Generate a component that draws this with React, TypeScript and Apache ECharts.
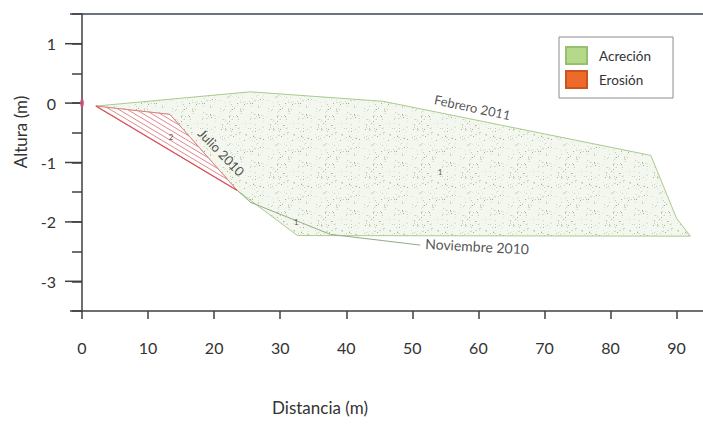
import React, { useEffect, useRef } from 'react';
import * as echarts from 'echarts';

// Axis ticks
const X_TICKS = [0, 10, 20, 30, 40, 50, 60, 70, 80, 90];
const Y_TICK_LABELS = [-3, -2, -1, 0, 1];
const X_MIN = 0;
const X_MAX = 94;
const Y_MIN = -3.5;
const Y_MAX = 1.5;

// Acreción polygon (Febrero 2011 profile vs. earlier profiles)
const ACRECION_X = [2.1, 25.5, 45.6, 86.1, 90.0, 92.1, 32.6, 23.5, 13.3];
const ACRECION_Y = [-0.05, 0.19, 0.03, -0.88, -1.94, -2.24, -2.23, -1.47, -0.19];

// Erosión polygon (hatched)
const EROSION_X = [2.1, 13.3, 23.5];
const EROSION_Y = [-0.05, -0.19, -1.47];

// Noviembre 2010 profile line
const NOV_X = [23.5, 25.5, 37.6, 51.2];
const NOV_Y = [-1.47, -1.67, -2.21, -2.39];

// Annotations
const LABEL_TEXT = ['Febrero 2011', 'Julio 2010', 'Noviembre 2010', '1', '1', '2'];
const LABEL_X = [59.1, 21.1, 59.8, 54.2, 32.4, 13.5];
const LABEL_Y = [-0.07, -0.83, -2.41, -1.16, -2.0, -0.57];
const LABEL_ANGLE = [-12, -46, -3, 0, 0, 0];
const LABEL_SIZE = [13, 13, 14, 8, 8, 8];

const FONT = 'Lato, "Open Sans", sans-serif';
const AXIS_COLOR = '#404040';

function makeStipple(): HTMLCanvasElement {
  const c = document.createElement('canvas');
  c.width = 48;
  c.height = 48;
  const ctx = c.getContext('2d')!;
  ctx.fillStyle = '#f4f7ef';
  ctx.fillRect(0, 0, 48, 48);
  let s = 12345;
  const rnd = () => {
    s = (s * 1103515245 + 12345) % 2147483648;
    return s / 2147483648;
  };
  for (let i = 0; i < 200; i++) {
    const x = Math.floor(rnd() * 48);
    const y = Math.floor(rnd() * 48);
    const r = rnd();
    ctx.fillStyle = r < 0.12 ? '#a3b199' : r < 0.5 ? '#c5d3b4' : '#dde7d0';
    ctx.fillRect(x, y, 1, 1);
  }
  return c;
}

export default function App() {
  const ref = useRef<HTMLDivElement>(null);

  useEffect(() => {
    if (!ref.current) return;
    const chart = echarts.init(ref.current, undefined, { renderer: 'svg' });
    const stipple = makeStipple();

    const acrecionData = ACRECION_X.map((x, i) => [x, ACRECION_Y[i]]);
    const erosionData = EROSION_X.map((x, i) => [x, EROSION_Y[i]]);
    const novData = NOV_X.map((x, i) => [x, NOV_Y[i]]);

    const labelData = LABEL_TEXT.map((t, i) => ({
      value: [LABEL_X[i], LABEL_Y[i]],
      label: {
        formatter: t,
        rotate: LABEL_ANGLE[i],
        fontSize: LABEL_SIZE[i],
      },
    }));

    const option: any = {
      animation: false,
      grid: { left: 82, right: 0, top: 14, bottom: 117 },
      legend: {
        data: ['Acreción', 'Erosión'],
        orient: 'vertical',
        left: 559,
        top: 37,
        padding: [9, 22, 9, 6],
        itemWidth: 21,
        itemHeight: 17,
        itemGap: 5,
        borderColor: '#8c8c8c',
        borderWidth: 1,
        backgroundColor: '#fff',
        icon: 'rect',
        selectedMode: false,
        textStyle: { fontSize: 13.5, color: '#333', fontFamily: FONT, padding: [0, 0, 0, 7] },
      },
      xAxis: [
        {
          type: 'value',
          position: 'bottom',
          min: X_MIN,
          max: X_MAX,
          interval: 10,
          splitLine: { show: false },
          axisLine: { show: true, onZero: false, lineStyle: { color: AXIS_COLOR, width: 1.5 } },
          axisTick: { show: true, length: 8, lineStyle: { color: AXIS_COLOR, width: 1.5 } },
          axisLabel: {
            margin: 28,
            fontSize: 16,
            color: '#333',
            fontFamily: FONT,
            showMaxLabel: false,
            formatter: (v: number) => (X_TICKS.includes(v) ? String(v) : ''),
          },
        },
        {
          type: 'value',
          position: 'top',
          min: X_MIN,
          max: X_MAX,
          splitLine: { show: false },
          axisLine: { show: true, onZero: false, lineStyle: { color: '#3a4656', width: 1.5 } },
          axisTick: { show: false },
          axisLabel: { show: false },
        },
      ],
      yAxis: {
        type: 'value',
        min: Y_MIN,
        max: Y_MAX,
        interval: 0.5,
        splitLine: { show: false },
        axisLine: { show: true, onZero: false, lineStyle: { color: AXIS_COLOR, width: 1.5 } },
        axisTick: { show: true, length: 10, lineStyle: { color: AXIS_COLOR, width: 1.5 } },
        axisLabel: {
          margin: 26,
          fontSize: 16,
          color: '#333',
          fontFamily: FONT,
          formatter: (v: number) => (Y_TICK_LABELS.includes(v) ? String(v) : ''),
        },
      },
      graphic: [
        {
          type: 'text',
          x: 20,
          y: 132,
          rotation: Math.PI / 2,
          style: {
            text: 'Altura (m)',
            fontSize: 17,
            fontFamily: FONT,
            fill: '#333',
            align: 'center',
            verticalAlign: 'middle',
          },
        },
        {
          type: 'text',
          x: 320,
          y: 407,
          style: {
            text: 'Distancia (m)',
            fontSize: 17,
            fontFamily: FONT,
            fill: '#333',
            align: 'center',
            verticalAlign: 'middle',
          },
        },
      ],
      series: [
        {
          name: 'Acreción',
          type: 'custom',
          itemStyle: { color: '#b5d98a', borderColor: '#98bf6e', borderWidth: 1 },
          data: acrecionData,
          silent: true,
          renderItem: (params: any, api: any) => {
            if (params.dataIndex !== 0) return null;
            const pts = acrecionData.map((d) => api.coord(d));
            return {
              type: 'polygon',
              shape: { points: pts },
              style: {
                fill: { image: stipple, repeat: 'repeat', imageWidth: 48, imageHeight: 48 },
                stroke: '#a9cc8e',
                lineWidth: 1,
              },
            };
          },
        },
        {
          name: 'Erosión',
          type: 'custom',
          itemStyle: { color: '#ee6a2a', borderColor: '#c9541f', borderWidth: 1 },
          data: erosionData,
          silent: true,
          renderItem: (params: any, api: any) => {
            if (params.dataIndex !== 0) return null;
            const [A, J, I] = erosionData.map((d) => api.coord(d));
            const children: any[] = [
              {
                type: 'polygon',
                shape: { points: [A, J, I] },
                style: { fill: '#fff', stroke: '#e07d84', lineWidth: 1 },
              },
              {
                type: 'line',
                shape: { x1: A[0], y1: A[1], x2: I[0], y2: I[1] },
                style: { stroke: '#d9545c', lineWidth: 1.2, fill: 'none' },
              },
            ];
            const n = 7;
            for (let k = 1; k < n; k++) {
              const s = k / n;
              children.push({
                type: 'line',
                shape: {
                  x1: A[0] + s * (J[0] - A[0]),
                  y1: A[1] + s * (J[1] - A[1]),
                  x2: I[0] + s * (J[0] - I[0]),
                  y2: I[1] + s * (J[1] - I[1]),
                },
                style: { stroke: '#e08a90', lineWidth: 1, fill: 'none' },
              });
            }
            return { type: 'group', children };
          },
        },
        {
          name: 'Noviembre 2010',
          type: 'custom',
          data: novData,
          silent: true,
          renderItem: (params: any, api: any) => {
            if (params.dataIndex !== 0) return null;
            const pts = novData.map((d) => api.coord(d));
            return {
              type: 'polyline',
              shape: { points: pts },
              style: { stroke: '#94ab86', lineWidth: 1, fill: 'none' },
            };
          },
        },
        {
          name: 'origin',
          type: 'scatter',
          data: [[0, 0]],
          symbol: 'circle',
          symbolSize: [4, 9],
          itemStyle: { color: '#d6507e' },
          silent: true,
          z: 5,
        },
        {
          name: 'yMajorTicks',
          type: 'custom',
          clip: false,
          silent: true,
          data: Y_TICK_LABELS.map((v) => [X_MIN, v]),
          renderItem: (params: any, api: any) => {
            const p = api.coord([X_MIN, api.value(1)]);
            return {
              type: 'line',
              shape: { x1: p[0] - 17, y1: p[1], x2: p[0], y2: p[1] },
              style: { stroke: AXIS_COLOR, lineWidth: 1.5, fill: 'none' },
            };
          },
        },
        {
          name: 'frame',
          type: 'custom',
          clip: false,
          silent: true,
          data: [[X_MIN, Y_MIN], [X_MIN, Y_MAX]],
          renderItem: (params: any, api: any) => {
            const p = api.coord([api.value(0), api.value(1)]);
            return {
              type: 'line',
              shape: { x1: p[0] - 12, y1: p[1], x2: p[0], y2: p[1] },
              style: {
                stroke: params.dataIndex === 0 ? AXIS_COLOR : '#3a4656',
                lineWidth: 1.5,
                fill: 'none',
              },
            };
          },
        },
        {
          name: 'labels',
          type: 'scatter',
          data: labelData,
          symbolSize: 0,
          silent: true,
          z: 6,
          label: {
            show: true,
            position: 'inside',
            color: '#262626',
            fontFamily: FONT,
            align: 'center',
            verticalAlign: 'middle',
          },
        },
      ],
    };

    chart.setOption(option);
    return () => chart.dispose();
  }, []);

  return (
    <div
      ref={ref}
      style={{ position: 'fixed', left: 0, top: 0, width: 703, height: 428, background: '#fff' }}
    />
  );
}
